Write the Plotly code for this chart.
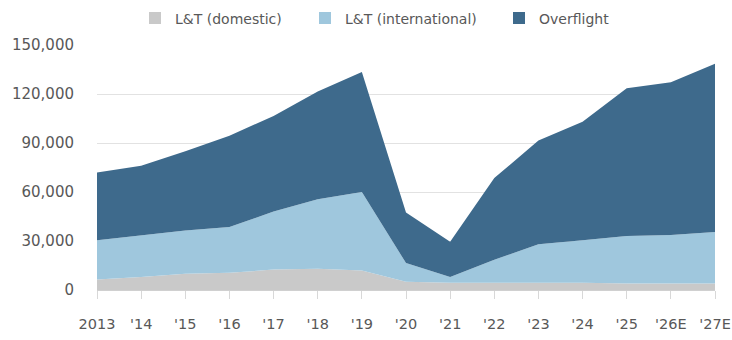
import plotly.graph_objects as go

years = ["2013", "'14", "'15", "'16", "'17", "'18", "'19", "'20", "'21", "'22", "'23", "'24", "'25", "'26E", "'27E"]
domestic = [6500, 8000, 10000, 10500, 12500, 13000, 12000, 5000, 4500, 4500, 4500, 4500, 4000, 4000, 4000]
international = [24000, 25500, 26500, 28000, 35500, 42500, 48000, 11500, 3500, 14000, 23500, 26000, 29000, 29700, 31500]
overflight = [41500, 42500, 48500, 56000, 58500, 66000, 73500, 31000, 21500, 50000, 63500, 72500, 90500, 93500, 103000]

C_DOM = "#c9c9c9"
C_INT = "#9fc7dd"
C_OVF = "#3e6a8c"
FONT = "DejaVu Sans"
TXT = "#585858"

W, H = 732, 340

series = [("L&T (domestic)", domestic, C_DOM, "legend", 135),
          ("L&T (international)", international, C_INT, "legend2", 305),
          ("Overflight", overflight, C_OVF, "legend3", 499)]

fig = go.Figure()
for name, vals, col, lg, lx in series:
    fig.add_trace(go.Scatter(x=list(range(len(years))), y=vals, name=name,
                             stackgroup="one", mode="lines",
                             line=dict(width=0, color=col), fillcolor=col,
                             showlegend=False, hoverinfo="skip"))
    fig.add_trace(go.Scatter(x=[None], y=[None], name=name, mode="markers",
                             marker=dict(symbol="square", size=12, color=col),
                             showlegend=True, legend=lg))

legend_common = dict(orientation="h", yref="container", xref="container",
                     y=1 - 18.5 / H, yanchor="middle", xanchor="left",
                     font=dict(size=14, color=TXT), itemclick=False,
                     bgcolor="rgba(0,0,0,0)")
fig.update_layout(
    width=W, height=H,
    margin=dict(l=97, r=17, t=45, b=50, autoexpand=False),
    paper_bgcolor="white", plot_bgcolor="white",
    font=dict(family=FONT, size=15, color=TXT),
    showlegend=True,
    hovermode=False,
    legend=dict(**legend_common, x=series[0][4] / W),
    legend2=dict(**legend_common, x=series[1][4] / W),
    legend3=dict(**legend_common, x=series[2][4] / W),
)
fig.update_xaxes(range=[0, len(years) - 1], tickvals=list(range(len(years))), ticktext=years,
                 showgrid=False, zeroline=False, showline=True, linecolor="#d0d0d0", linewidth=1,
                 ticks="outside", ticklen=8, tickcolor="#d8d8d8", tickwidth=1, automargin=False,
                 ticklabelstandoff=13, tickfont=dict(size=14.5, color=TXT))
fig.update_yaxes(range=[0, 150000], tickvals=[0, 30000, 60000, 90000, 120000, 150000],
                 tickformat=",d", showgrid=True, gridcolor="#e2e2e2", gridwidth=1,
                 zeroline=False, showline=False, ticks="", automargin=False,
                 ticklabelstandoff=22, tickfont=dict(size=15, color=TXT))

fig.write_html(
    "out.html",
    config={"displayModeBar": False},
    post_script="document.body.style.margin='0';document.documentElement.style.overflow='hidden';document.body.style.overflow='hidden';",
)
